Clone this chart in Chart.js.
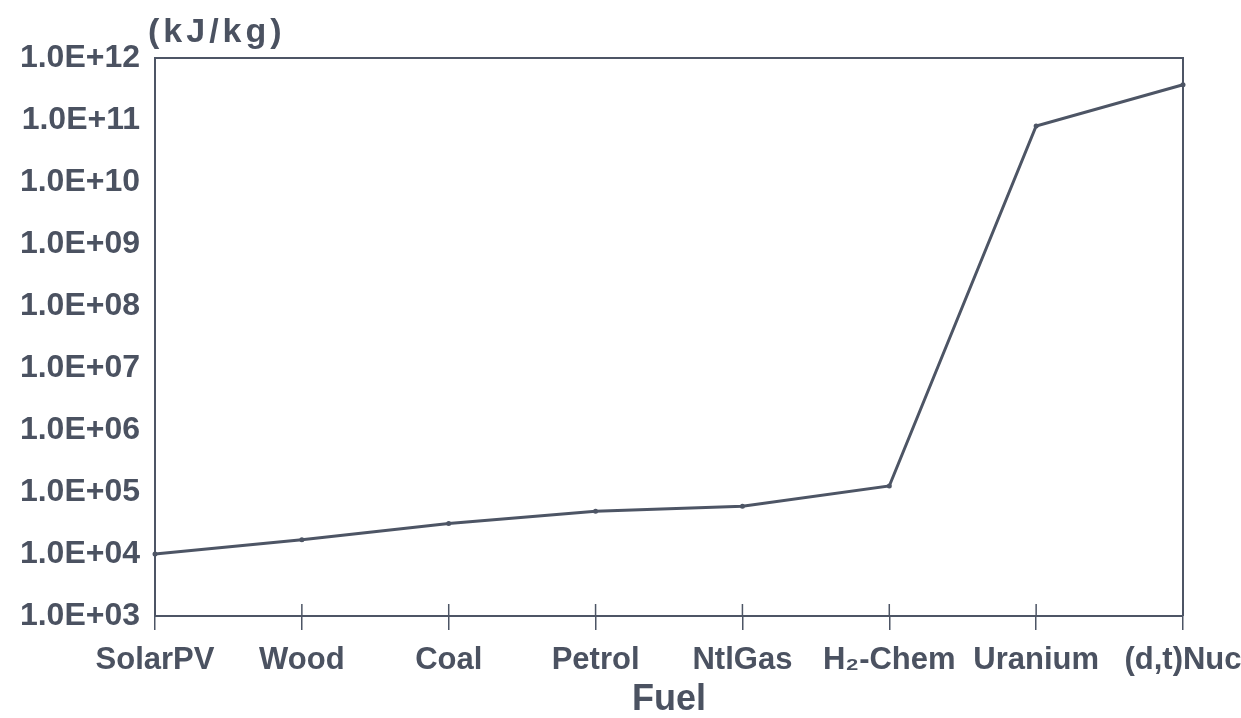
<!DOCTYPE html>
<html>
<head>
<meta charset="utf-8">
<script src="https://cdn.jsdelivr.net/npm/chart.js@4.4.1/dist/chart.umd.min.js"></script>
<style>
  html, body { margin: 0; padding: 0; background: #ffffff; }
  #wrap { width: 1241px; height: 718px; position: relative; }
</style>
</head>
<body>
<div id="wrap"><canvas id="c" width="1241" height="718"></canvas></div>
<script>
// ---- Data ----
const categories = ['SolarPV', 'Wood', 'Coal', 'Petrol', 'NtlGas', 'H\u2082-Chem', 'Uranium', '(d,t)Nuc'];
const energyDensity = [1.0e4, 1.7e4, 3.1e4, 4.9e4, 5.9e4, 1.25e5, 8.0e10, 3.7e11];
const yTickValues = [1e3, 1e4, 1e5, 1e6, 1e7, 1e8, 1e9, 1e10, 1e11, 1e12];
const yTickLabels = ['1.0E+03', '1.0E+04', '1.0E+05', '1.0E+06', '1.0E+07', '1.0E+08', '1.0E+09', '1.0E+10', '1.0E+11', '1.0E+12'];
const unitLabel = '(kJ/kg)';
const xAxisTitle = 'Fuel';

const INK = '#4b5261';
const LINE = '#4d5565';
const FONT = "'Liberation Sans', Arial, Helvetica, sans-serif";

const framePlugin = {
  id: 'frame',
  afterDraw(chart) {
    const { ctx, chartArea: a, scales } = chart;
    ctx.save();
    // top and right border of the plot box
    ctx.strokeStyle = LINE;
    ctx.lineWidth = 2;
    ctx.beginPath();
    ctx.moveTo(a.left, a.top);
    ctx.lineTo(a.right, a.top);
    ctx.lineTo(a.right, a.bottom);
    ctx.stroke();
    // upper half of the crossing category ticks
    const xs = scales.x;
    ctx.lineWidth = 1.5;
    xs.ticks.forEach((t, i) => {
      const px = xs.getPixelForTick(i);
      ctx.beginPath();
      ctx.moveTo(px, a.bottom - 12);
      ctx.lineTo(px, a.bottom);
      ctx.stroke();
    });
    // unit label above the y axis
    ctx.fillStyle = INK;
    ctx.font = "bold 34px " + FONT;
    if ('letterSpacing' in ctx) ctx.letterSpacing = '4px';
    ctx.textAlign = 'left';
    ctx.textBaseline = 'alphabetic';
    ctx.fillText(unitLabel, a.left - 7, a.top - 16);
    ctx.restore();
  }
};

new Chart(document.getElementById('c'), {
  type: 'line',
  data: {
    labels: categories,
    datasets: [{
      data: energyDensity,
      borderColor: LINE,
      backgroundColor: LINE,
      borderWidth: 3,
      pointRadius: 2.5,
      pointBorderWidth: 0,
      tension: 0,
      fill: false
    }]
  },
  options: {
    responsive: false,
    animation: false,
    devicePixelRatio: 1,
    layout: { padding: { top: 58, right: 58, left: 0, bottom: 0 } },
    plugins: {
      legend: { display: false },
      tooltip: { enabled: false }
    },
    scales: {
      x: {
        type: 'category',
        offset: false,
        grid: {
          display: true,
          drawOnChartArea: false,
          drawTicks: true,
          tickLength: 14,
          color: LINE,
          lineWidth: 1.5
        },
        border: { display: true, color: LINE, width: 2 },
        ticks: {
          color: INK,
          font: { family: FONT, size: 31, weight: 'bold' },
          padding: 12,
          maxRotation: 0,
          autoSkip: false
        },
        title: {
          display: true,
          text: xAxisTitle,
          color: INK,
          font: { family: FONT, size: 36, weight: 'bold', lineHeight: 1.0 },
          padding: { top: 0, bottom: 0 }
        },
        afterFit(scale) {
          scale.height = 102;
          scale.paddingRight = 0;
          scale.paddingLeft = 0;
        }
      },
      y: {
        type: 'logarithmic',
        min: 1e3,
        max: 1e12,
        grid: { display: false, drawTicks: false },
        border: { display: true, color: LINE, width: 2 },
        afterBuildTicks(scale) {
          scale.ticks = yTickValues.map(v => ({ value: v, major: false }));
        },
        ticks: {
          color: INK,
          font: { family: FONT, size: 32, weight: 'bold' },
          padding: 15,
          callback(value) {
            const i = yTickValues.indexOf(value);
            return i >= 0 ? yTickLabels[i] : '';
          }
        },
        afterFit(scale) {
          scale.width = 155;
          scale.paddingTop = 0;
          scale.paddingBottom = 0;
        }
      }
    }
  },
  plugins: [framePlugin]
});
</script>
</body>
</html>
